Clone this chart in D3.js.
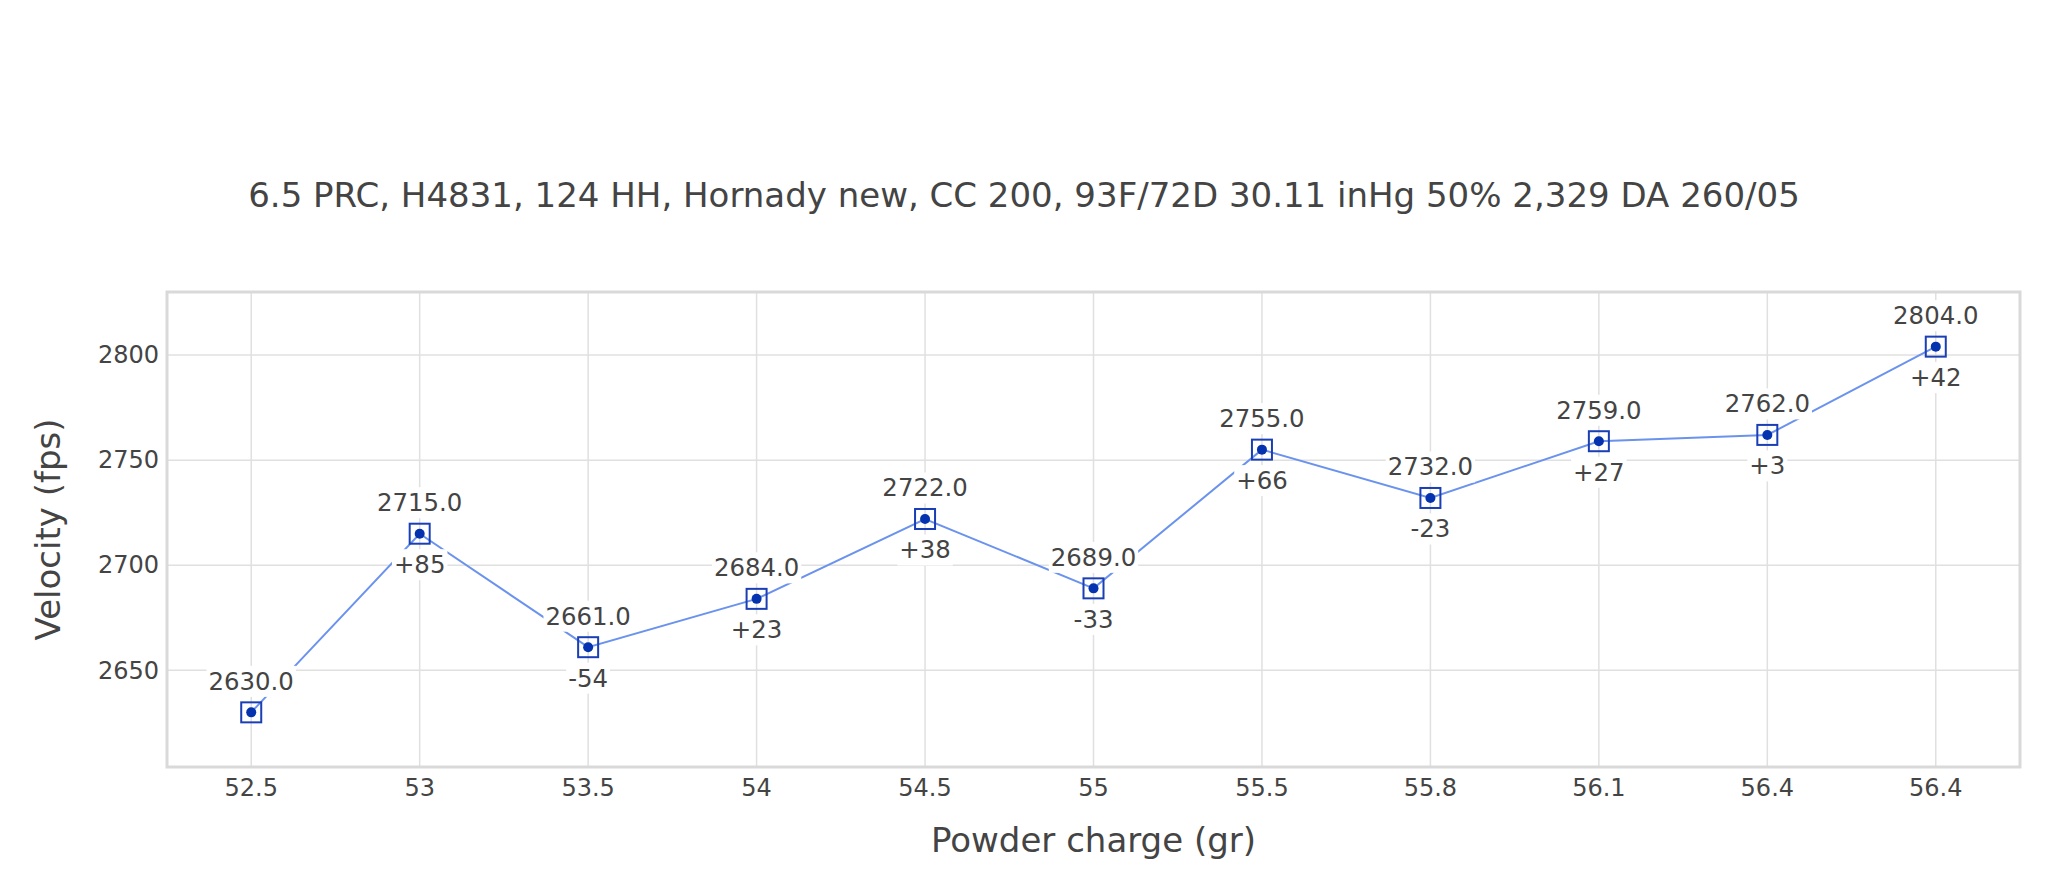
<!DOCTYPE html>
<html><head><meta charset="utf-8">
<script src="https://cdn.jsdelivr.net/npm/d3@7/dist/d3.min.js"></script>
<style>body{margin:0;background:#fff}svg{display:block}text{font-family:"DejaVu Sans",sans-serif;fill:#444}</style>
</head><body><svg id="c" width="2048" height="889"></svg>
<script>
const charges = ["52.5","53","53.5","54","54.5","55","55.5","55.8","56.1","56.4","56.4"];
const velocities = [2630,2715,2661,2684,2722,2689,2755,2732,2759,2762,2804];
const deltas = [null,"+85","-54","+23","+38","-33","+66","-23","+27","+3","+42"];
const yTicks = [2650,2700,2750,2800];
const titleText = "6.5 PRC, H4831, 124 HH, Hornady new, CC 200, 93F/72D 30.11 inHg 50% 2,329 DA 260/05";

const svg = d3.select("#c");
const L=167, R=2020, T=292, B=767;
const x = d3.scaleBand().domain(d3.range(charges.length)).range([L,R]).paddingInner(0).paddingOuter(0);
const cx = i => x(i)+x.bandwidth()/2;
const y = d3.scaleLinear().domain([2604,2830]).range([B,T]);

// grid
const g = svg.append("g");
g.selectAll("line.h").data(yTicks).join("line")
  .attr("x1",L).attr("x2",R).attr("y1",d=>y(d)).attr("y2",d=>y(d))
  .attr("stroke","#e0e0e0").attr("stroke-width",1.5);
g.selectAll("line.v").data(d3.range(charges.length)).join("line")
  .attr("y1",T).attr("y2",B).attr("x1",cx).attr("x2",cx)
  .attr("stroke","#e0e0e0").attr("stroke-width",1.5);
svg.append("rect").attr("x",L).attr("y",T).attr("width",R-L).attr("height",B-T)
  .attr("fill","none").attr("stroke","#d9d9d9").attr("stroke-width",3);

// axes
const yAxis = svg.append("g").attr("transform",`translate(${L},0)`)
  .call(d3.axisLeft(y).tickValues(yTicks).tickFormat(d3.format("d")).tickSize(0).tickPadding(8));
yAxis.select(".domain").remove();
yAxis.selectAll("text").style("font-size","24px");
const xAxis = svg.append("g").attr("transform",`translate(0,${B})`)
  .call(d3.axisBottom(x).tickFormat(i=>charges[i]).tickSize(0).tickPadding(12));
xAxis.select(".domain").remove();
xAxis.selectAll("text").style("font-size","24px");

// line
const pts = velocities.map((v,i)=>[cx(i),y(v)]);
svg.append("path").attr("d",d3.line()(pts)).attr("fill","none")
  .attr("stroke","#6b93ee").attr("stroke-width",2);

// markers
const m = svg.append("g").selectAll("g").data(velocities).join("g")
  .attr("transform",(d,i)=>`translate(${cx(i)},${y(d)})`);
m.append("rect").attr("x",-10).attr("y",-10).attr("width",20).attr("height",20)
  .attr("fill","none").attr("stroke","#1a3fb5").attr("stroke-width",2);
m.append("circle").attr("r",5).attr("fill","#0533b0");

// labels with white backgrounds
function label(xp, yp, txt){
  const gg = svg.append("g");
  const t = gg.append("text").attr("x",xp).attr("y",yp).attr("text-anchor","middle")
    .attr("dominant-baseline","central").style("font-size","24.4px").text(txt);
  const bb = t.node().getBBox();
  gg.insert("rect","text").attr("x",bb.x-2).attr("y",bb.y-1).attr("width",bb.width+4).attr("height",bb.height+2).attr("fill","#fff");
}
velocities.forEach((v,i)=>{
  label(cx(i), y(v)-31, v.toFixed(1));
  if(deltas[i]) label(cx(i), y(v)+31, deltas[i]);
});

// titles
svg.append("text").attr("x",1024).attr("y",207).attr("text-anchor","middle")
  .style("font-size","34px").text(titleText);
svg.append("text").attr("x",(L+R)/2).attr("y",852).attr("text-anchor","middle")
  .style("font-size","34px").text("Powder charge (gr)");
svg.append("text").attr("transform",`translate(60,${(T+B)/2}) rotate(-90)`).attr("text-anchor","middle")
  .style("font-size","34px").text("Velocity (fps)");
</script></body></html>
